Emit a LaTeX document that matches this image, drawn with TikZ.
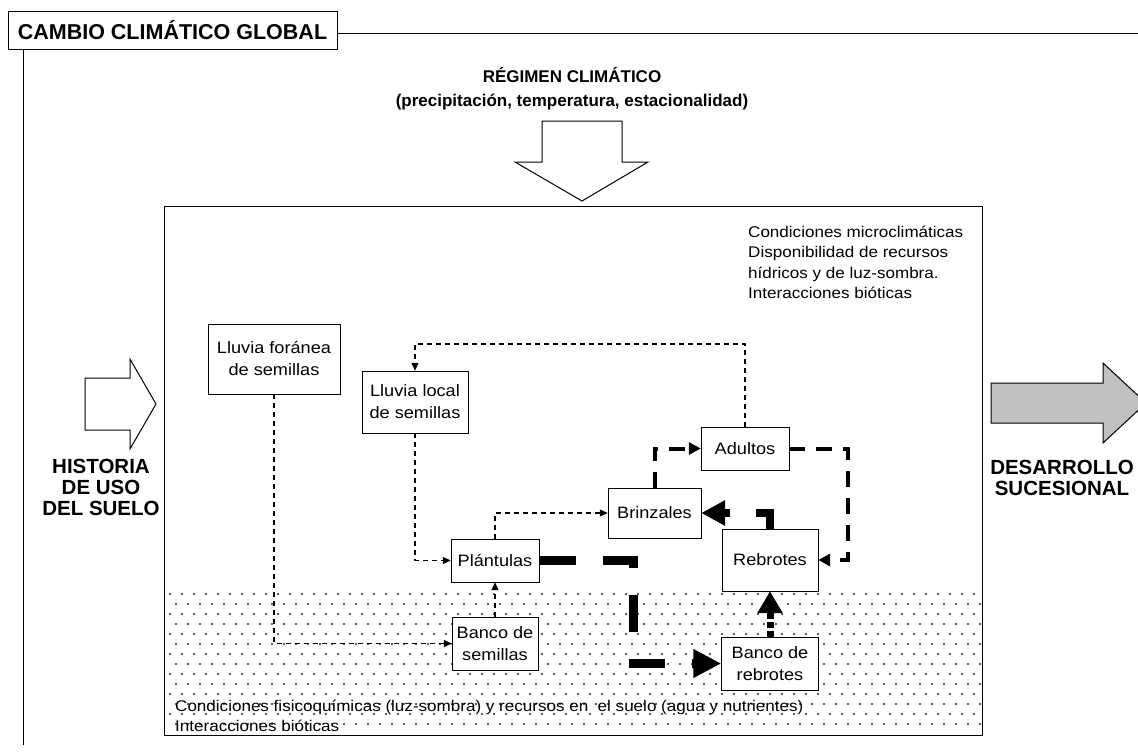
\documentclass[tikz,border=0pt]{standalone}
\usepackage{fontspec}
\setmainfont{Liberation Sans}
\newfontfamily\cajafont[FakeStretch=1.1]{Liberation Sans}
\usetikzlibrary{arrows.meta}

\begin{document}
\begin{tikzpicture}[x=1pt,y=-1pt]
\tikzset{caja/.style={draw,fill=white,inner sep=0pt,align=center,font=\cajafont\fontsize{16.5}{22}\selectfont}}
\tikzset{nota/.style={inner sep=0pt,align=left,anchor=north west,font=\cajafont\fontsize{15.5}{20.3}\selectfont}}
\tikzset{titular/.style={inner sep=0pt,align=center,font=\bfseries\fontsize{20.5}{21}\selectfont}}
\tikzset{flechona/.style={draw,line width=1pt,line join=miter}}
\tikzset{fina/.style={line width=1.2pt,dash pattern=on 5pt off 4pt,-{Triangle[length=8pt,width=7pt]}}}
\tikzset{media/.style={line width=4pt,dash pattern=on 16pt off 11pt,-{Triangle[length=12pt,width=12pt]}}}
\tikzset{gruesa/.style={line width=8pt,dash pattern=on 30pt off 26pt,-{Triangle[length=24pt,width=24pt]}}}
\tikzset{ancha/.style={line width=9pt,dash pattern=on 37pt off 27pt,-{Triangle[length=28pt,width=27pt]}}}
\tikzset{corta/.style={line width=7pt,dash pattern=on 6pt off 3pt,-{Triangle[length=22pt,width=24pt]}}}

\useasboundingbox[fill=white] (0,0) rectangle (1138,755);

\node[draw,inner sep=0pt,minimum width=329pt,minimum height=38pt,font=\bfseries\fontsize{21.5}{24}\selectfont] (titulo) at (172.5,30) {CAMBIO CLIMÁTICO GLOBAL};
\draw (titulo.east |- 0,33) -- (1138,33);
\draw (23,49) -- (23,745);

\node[inner sep=0pt,align=center,font=\bfseries\fontsize{17}{24}\selectfont] (regimen) at (572,89) {RÉGIMEN CLIMÁTICO\\(precipitación, temperatura, estacionalidad)};
\draw[flechona] (542,121) -- (622,121) -- (622,162) -- (648,162) -- (582,201) -- (515,162) -- (542,162) -- cycle;
\draw[flechona] (85,378) -- (130,378) -- (130,359) -- (156,404) -- (130,449) -- (130,430) -- (85,430) -- cycle;
\draw[flechona,fill={rgb,255:red,192;green,192;blue,192}] (991,383) -- (1103,383) -- (1103,363) -- (1146,403) -- (1103,443) -- (1103,423) -- (991,423) -- cycle;
\node[titular] (historia) at (101,487) {HISTORIA\\DE USO\\DEL SUELO};
\node[titular] (desarrollo) at (1062,477.5) {DESARROLLO\\SUCESIONAL};

\foreach \r in {0,...,13}{\foreach \c in {0,...,67}{\fill[black!85] ({170+12*\c+6*mod(\r,2)},{594+10*\r}) circle (1.05pt);}}
\draw (164,206) rectangle (982,735);

\node[nota] (micro) at (748,226) {Condiciones microclimáticas\\Disponibilidad de recursos\\hídricos y de luz-sombra.\\Interacciones bióticas};
\node[nota] (suelo) at (175,700) {Condiciones fisicoquímicas (luz-sombra) y recursos en\ \ el suelo (agua y nutrientes)\\Interacciones bióticas};

\node[caja,minimum width=132pt,minimum height=70pt] (foranea) at (274,359) {Lluvia foránea\\de semillas};
\node[caja,minimum width=106pt,minimum height=62pt] (local) at (415,402) {Lluvia local\\de semillas};
\node[caja,minimum width=88pt,minimum height=43pt] (adultos) at (745,448.5) {Adultos};
\node[caja,minimum width=93pt,minimum height=50pt] (brinzales) at (654.5,513) {Brinzales};
\node[caja,minimum width=96pt,minimum height=62pt] (rebrotes) at (770,560) {Rebrotes};
\node[caja,minimum width=88pt,minimum height=43pt] (plantulas) at (495,560.5) {Plántulas};
\node[caja,minimum width=86pt,minimum height=53pt] (bsemillas) at (495,643.5) {Banco de\\semillas};
\node[caja,minimum width=97pt,minimum height=53pt] (brebrotes) at (770,663.5) {Banco de\\rebrotes};

\coordinate (arriba) at (415,344);
\coordinate (derecha) at (848,448.5);
\coordinate (quiebre) at (633,560.5);

\draw[fina] (foranea.south) |- (bsemillas.west);
\draw[fina] (local.south) |- (plantulas.west);
\draw[fina] (bsemillas.north) -- (plantulas.south);
\draw[fina] (plantulas.north) |- (brinzales.west);
\draw[fina] (adultos.north) |- (arriba) -- (local.north);
\draw[media] (brinzales.north) |- (adultos.west);
\draw[media] (adultos.east) -- (derecha) |- (rebrotes.east);
\draw[ancha] (plantulas.east) -- (quiebre) |- (brebrotes.west);
\draw[gruesa] (rebrotes.north) |- (brinzales.east);
\draw[corta] (brebrotes.north) -- (rebrotes.south);

\end{tikzpicture}
\end{document}
